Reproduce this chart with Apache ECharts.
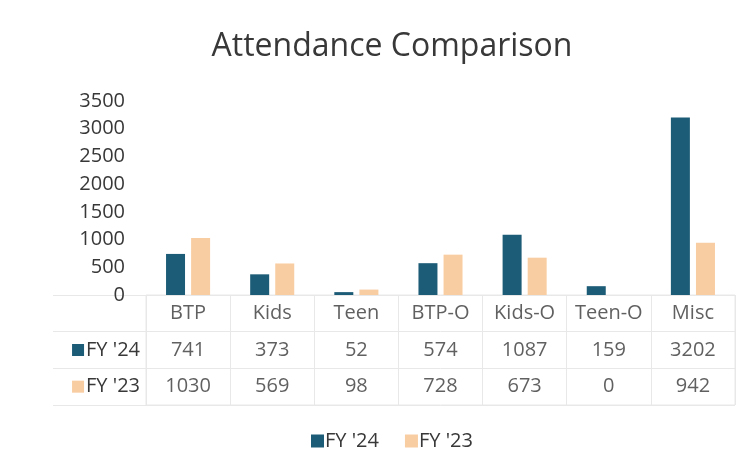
<!DOCTYPE html>
<html>
<head>
<meta charset="utf-8">
<script src="https://cdn.jsdelivr.net/npm/echarts@6/dist/echarts.min.js"></script>
<style>
  html, body { margin: 0; padding: 0; background: #fff; }
  #main { width: 746px; height: 472px; }
</style>
</head>
<body>
<div id="main"></div>
<script>
// data
var categories = ['BTP', 'Kids', 'Teen', 'BTP-O', 'Kids-O', 'Teen-O', 'Misc'];
var fy24 = [741, 373, 52, 574, 1087, 159, 3202];
var fy23 = [1030, 569, 98, 728, 673, 0, 942];
var seriesNames = ["FY '24", "FY '23"];
var colors = ['#1D5C77', '#F9CDA2'];

var font = 'Open Sans';
var textColor = '#383838';
var lineColor = '#E8E8E8';

var chart = echarts.init(document.getElementById('main'));

// table cells: header row + one row per series
var cells = [];
categories.forEach(function (c, i) {
  cells.push([i, 0, c]);
  cells.push([i, 1, String(fy24[i])]);
  cells.push([i, 2, String(fy23[i])]);
});

var option = {
  backgroundColor: '#fff',
  color: colors,
  textStyle: { fontFamily: font },
  title: {
    text: 'Attendance Comparison',
    left: 387,
    textAlign: 'center',
    top: 26,
    textStyle: { fontFamily: font, fontSize: 32, fontWeight: 'normal', color: textColor }
  },
  legend: {
    data: seriesNames,
    top: 426,
    left: 306,
    itemWidth: 13,
    itemHeight: 13,
    itemGap: 26,
    icon: 'rect',
    textStyle: { fontFamily: font, fontSize: 20, color: textColor, padding: [0, 0, 0, -4] }
  },
  grid: [
    { left: 146, right: 11, top: 101, height: 194 },
    { left: 146, right: 11, top: 295, height: 110, show: true, borderColor: lineColor, borderWidth: 1 }
  ],
  xAxis: [
    {
      type: 'category',
      data: categories,
      gridIndex: 0,
      axisLine: { show: false },
      axisTick: { show: false },
      axisLabel: { show: false }
    },
    {
      type: 'category',
      data: categories,
      gridIndex: 1,
      axisLine: { show: false },
      axisTick: { show: false },
      axisLabel: { show: false },
      splitLine: { show: true, lineStyle: { color: lineColor } }
    }
  ],
  yAxis: [
    {
      type: 'value',
      gridIndex: 0,
      min: 0,
      max: 3500,
      interval: 500,
      axisLine: { show: false },
      axisTick: { show: false },
      splitLine: { show: false },
      axisLabel: {
        fontFamily: font, fontSize: 20, color: textColor, margin: 21,
        formatter: function (v) { return String(v); }
      }
    },
    {
      type: 'category',
      data: [''].concat(seriesNames),
      gridIndex: 1,
      inverse: true,
      axisLine: { show: false },
      axisTick: { show: true, length: 93, lineStyle: { color: lineColor } },
      splitLine: { show: true, lineStyle: { color: lineColor } },
      axisLabel: {
        margin: 6,
        formatter: function (v, idx) {
          if (idx === 0) return '';
          return '{k' + (idx - 1) + '|}{t|' + v + '}';
        },
        rich: {
          k0: { width: 12, height: 12, backgroundColor: colors[0] },
          k1: { width: 12, height: 12, backgroundColor: colors[1] },
          t: { fontFamily: font, fontSize: 20, color: textColor, padding: [0, 0, 0, 2] }
        }
      }
    }
  ],
  series: [
    {
      name: seriesNames[0],
      type: 'bar',
      data: fy24,
      barWidth: 19,
      barGap: '32%',
      xAxisIndex: 0,
      yAxisIndex: 0
    },
    {
      name: seriesNames[1],
      type: 'bar',
      data: fy23,
      barWidth: 19,
      barGap: '32%',
      xAxisIndex: 0,
      yAxisIndex: 0
    },
    {
      name: 'table',
      type: 'scatter',
      xAxisIndex: 1,
      yAxisIndex: 1,
      symbolSize: 1,
      itemStyle: { color: 'transparent' },
      silent: true,
      label: {
        show: true,
        position: 'inside',
        fontFamily: font,
        fontSize: 20,
        color: textColor,
        formatter: function (p) { return p.value[2]; }
      },
      data: cells
    }
  ]
};

chart.setOption(option);
</script>
</body>
</html>
